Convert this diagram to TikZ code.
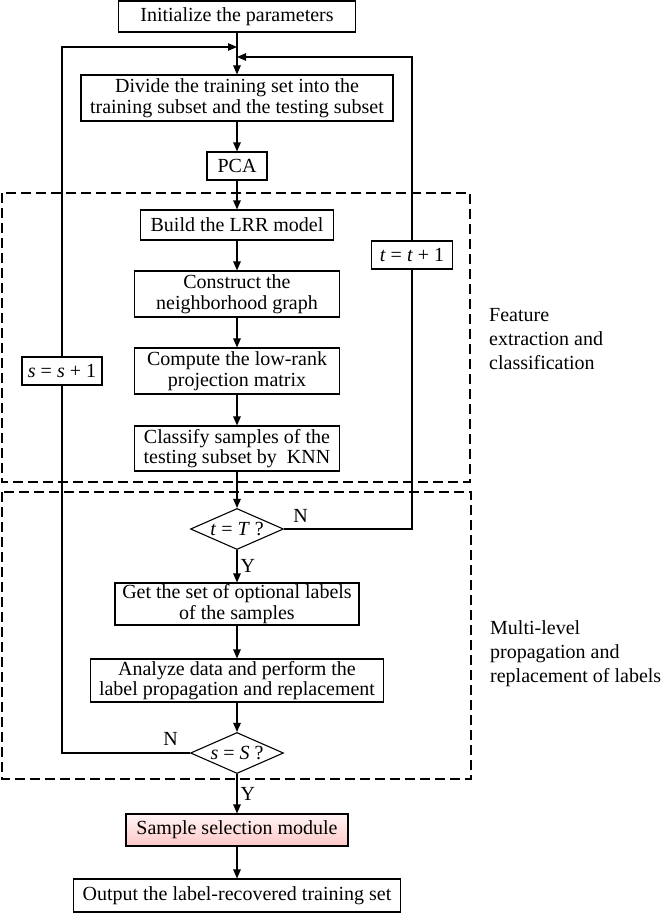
\documentclass[tikz,border=0pt]{standalone}
\usepackage{fontspec}
\setmainfont{Liberation Serif}
\usetikzlibrary{positioning,arrows.meta,shapes.geometric}
\tikzset{
  stepbox/.style={draw, fill=white, line width=1.1pt, align=center, inner sep=0pt,
                  font=\fontsize{20}{20.5}\selectfont},
  decision/.style={diamond, draw, fill=white, line width=1.1pt, inner sep=0pt, aspect=2.27,
                   minimum width=93pt, minimum height=41pt},
  flow/.style={line width=1.1pt, -{Triangle[length=9pt,width=7.5pt]}},
  plain/.style={line width=1.1pt},
  zone/.style={line width=1.7pt, dash pattern=on 10pt off 5pt},
  sidetext/.style={align=left, anchor=west, inner sep=0pt}
}
\newcommand{\vi}[1]{\textit{#1}}

\begin{document}
\begin{tikzpicture}[x=1pt, y=-1pt, font=\fontsize{20}{24}\selectfont]
  \useasboundingbox (0,0) rectangle (662,915);

  \draw[zone] (2,193) rectangle (470,482);
  \draw[zone] (2,492) rectangle (471,779);

  \node[stepbox, minimum width=237pt, minimum height=31pt] (init) at (237,16.5) {Initialize the parameters};
  \node[stepbox, minimum width=312pt, minimum height=46pt] (divide) at (237,98) {Divide the training set into the\\training subset and the testing subset};
  \node[stepbox, minimum width=60pt, minimum height=28pt] (pca) at (237,166) {PCA};
  \node[stepbox, minimum width=193pt, minimum height=30pt] (lrr) at (237,225) {Build the LRR model};
  \node[stepbox, minimum width=205pt, minimum height=46pt] (graph) at (237,294) {Construct the\\neighborhood graph};
  \node[stepbox, minimum width=205pt, minimum height=46pt] (proj) at (237,371) {Compute the low-rank\\projection matrix};
  \node[stepbox, minimum width=205pt, minimum height=45pt] (knn) at (237,448.5) {Classify samples of the\\testing subset by\ \ KNN};
  \node[decision] (tcheck) at (237,529) {\vi{t} = \vi{T} ?};
  \node[stepbox, minimum width=244pt, minimum height=42pt] (optlab) at (237,604) {Get the set of optional labels\\of the samples};
  \node[stepbox, minimum width=293pt, minimum height=43pt] (prop) at (237,680.5) {Analyze data and perform the\\label propagation and replacement};
  \node[decision] (scheck) at (237,753) {\vi{s} = \vi{S} ?};
  \node[stepbox, minimum width=222pt, minimum height=32pt, top color=red!4, bottom color=red!22] (select) at (237,830) {Sample selection module};
  \node[stepbox, minimum width=327pt, minimum height=33pt] (output) at (237,895.5) {Output the label-recovered training set};

  \node[stepbox, minimum width=80pt, minimum height=28pt] (sinc) at (62,371) {\vi{s} = \vi{s} + 1};
  \node[stepbox, minimum width=81pt, minimum height=28pt] (tinc) at (412,255) {\vi{t} = \vi{t} + 1};

  \coordinate (sjoin) at (237,47);
  \coordinate (tjoin) at (237,57);

  \draw[flow] (init) -- (divide);
  \draw[flow] (divide) -- (pca);
  \draw[flow] (pca) -- (lrr);
  \draw[flow] (lrr) -- (graph);
  \draw[flow] (graph) -- (proj);
  \draw[flow] (proj) -- (knn);
  \draw[flow] (knn) -- (tcheck);
  \draw[flow] (tcheck) -- node[right, inner sep=3pt] {Y} (optlab);
  \draw[flow] (optlab) -- (prop);
  \draw[flow] (prop) -- (scheck);
  \draw[flow] (scheck) -- node[right, inner sep=3pt] {Y} (select);
  \draw[flow] (select) -- (output);

  \draw[plain] (tcheck.east) -| (tinc.south);
  \draw[flow] (tinc.north) |- (tjoin);
  \node[anchor=south west, inner sep=0pt, above right=6pt and 9pt of tcheck.east] (tno) {N};

  \draw[plain] (scheck.west) -| (sinc.south);
  \draw[flow] (sinc.north) |- (sjoin);
  \node[anchor=south east, inner sep=0pt, above left=7pt and 12pt of scheck.west] (sno) {N};

  \node[sidetext] (featlab) at (489,339) {Feature\\extraction and\\classification};
  \node[sidetext] (proplab) at (490,654) {Multi-level\\propagation and\\replacement of labels};
\end{tikzpicture}
\end{document}
